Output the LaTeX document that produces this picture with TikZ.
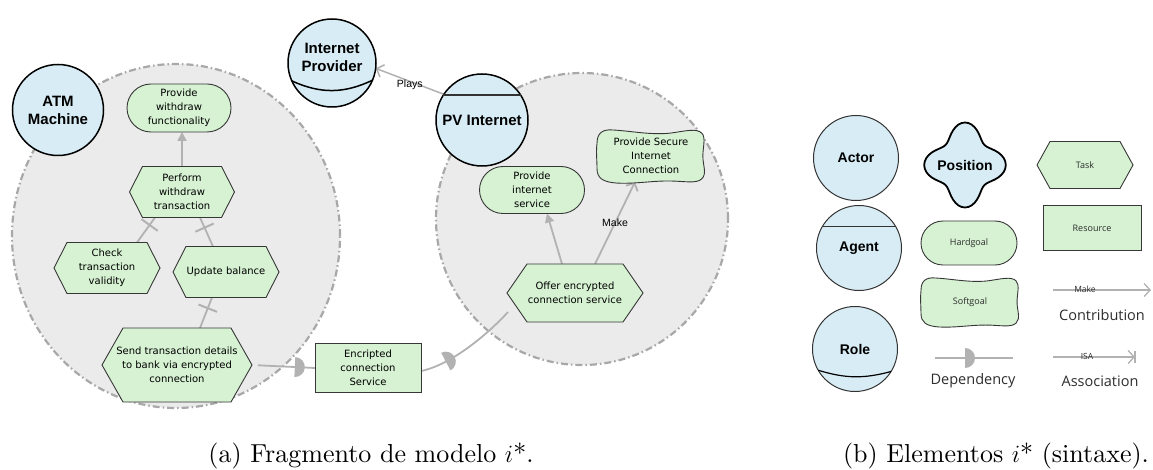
\documentclass[tikz,border=0pt]{standalone}
\usepackage{fontspec}
\newfontfamily\djvfont{DejaVu Sans}
\newfontfamily\libfont{Liberation Sans}
\newfontfamily\opsfont{Open Sans}
\newfontfamily\capfont{lmroman10-regular.otf}[ItalicFont=lmroman10-italic.otf]
\usetikzlibrary{shapes.misc,shapes.geometric,arrows.meta,decorations.markings,calc}
\definecolor{actorblue}{RGB}{215,236,244}
\definecolor{goalgreen}{RGB}{214,242,210}
\definecolor{boundfill}{RGB}{235,235,235}
\definecolor{boundline}{RGB}{168,168,168}
\definecolor{linkgrey}{RGB}{178,178,178}
\definecolor{elemline}{RGB}{55,55,55}
\definecolor{legtextcol}{RGB}{45,45,45}
\pgfdeclarelayer{bg}
\pgfdeclarelayer{links}
\pgfsetlayers{bg,links,main}

\tikzset{
  boundary/.style={draw=boundline, fill=boundfill, line width=2.2pt,
    dash pattern=on 7pt off 3pt on 1.5pt off 3pt, inner sep=0pt},
  actor/.style={circle, draw=black, line width=1.5pt, fill=actorblue, inner sep=0pt,
    outer sep=0pt, align=center, font=\libfont\bfseries\fontsize{15}{18}\selectfont},
  legactor/.style={actor, draw=black!80, line width=1pt,
    font=\libfont\bfseries\fontsize{14}{17}\selectfont},
  actorname/.style={align=center, inner sep=0pt, font=\libfont\bfseries\fontsize{15}{18}\selectfont},
  elemtext/.style={align=center, inner sep=0pt, outer sep=0pt, font=\djvfont\fontsize{10}{14}\selectfont},
  legtext/.style={align=center, inner sep=0pt, outer sep=0pt,
    font=\opsfont\fontsize{9}{11}\selectfont, text=legtextcol},
  elemshape/.style={draw=elemline, line width=0.9pt, fill=goalgreen},
  hardgoal/.style={elemshape, rounded rectangle, elemtext},
  resource/.style={elemshape, rectangle, elemtext},
  link/.style={draw=linkgrey, line width=1.8pt},
  legline/.style={draw=linkgrey, line width=1.3pt},
  filledtip/.style={-{Triangle[length=9pt,width=9pt]}},
  opentip/.style={-{Straight Barb[length=6pt,width=13pt]}},
  refine/.style={postaction={decorate, decoration={markings,
    mark=at position #1 with {\draw[linkgrey, line width=2pt] (0pt,-10pt) -- (0pt,10pt);}}}},
  depmark/.style={postaction={decorate, decoration={markings,
    mark=at position #1 with {\fill[linkgrey] (0pt,-10pt) arc[start angle=-90, end angle=90, radius=10pt] -- cycle;}}}},
  linklabel/.style={inner sep=0pt, font=\libfont\fontsize{10.5}{12}\selectfont},
  legname/.style={inner sep=0pt, font=\opsfont\fontsize{14.5}{17}\selectfont, text=legtextcol},
  captiontext/.style={inner sep=0pt, anchor=base, font=\capfont\fontsize{26}{31}\selectfont},
}

% task: hexagon with pointed left and right ends
% #1 name, #2 x, #3 y, #4 width, #5 height, #6 inset, #7 text, #8 text style
\newcommand\tasknode[8]{%
  \filldraw[elemshape] ({#2-#4/2},#3) -- ({#2-#4/2+#6},{#3-#5/2}) -- ({#2+#4/2-#6},{#3-#5/2})
    -- ({#2+#4/2},#3) -- ({#2+#4/2-#6},{#3+#5/2}) -- ({#2-#4/2+#6},{#3+#5/2}) -- cycle;
  \node[#8, minimum width=#4pt, minimum height=#5pt] (#1) at (#2,#3) {#7};
}

% softgoal: wavy rounded outline, drawn for a 100x50 box and scaled
% #1 name, #2 x, #3 y, #4 width, #5 height, #6 text, #7 text style
\newcommand\softnode[7]{%
  \begin{scope}[shift={(#2,#3)}, xscale=#4/100, yscale=#5/50]
    \filldraw[elemshape] (-50,-12)
      .. controls (-50,-22) and (-45,-26) .. (-35,-25)
      .. controls (-18,-24) and (0,-20) .. (18,-22)
      .. controls (32,-24) and (42,-27) .. (47,-22)
      .. controls (51,-18) and (48,-8) .. (48,0)
      .. controls (48,9) and (52,17) .. (47,22)
      .. controls (42,27) and (30,24) .. (16,24)
      .. controls (0,24) and (-16,27) .. (-32,26)
      .. controls (-45,25) and (-50,21) .. (-50,12)
      .. controls (-50,4) and (-51,-4) .. (-50,-12) -- cycle;
  \end{scope}
  \node[#7, minimum width=#4pt, minimum height=#5pt] (#1) at (#2,#3) {#6};
}

\begin{document}
\begin{tikzpicture}[x=1pt, y=-1pt]
\useasboundingbox (0,0) rectangle (1153,470);

% actor boundaries
\begin{pgfonlayer}{bg}
  \node[boundary, ellipse, minimum width=328pt, minimum height=344pt] (atmbound) at (176,236) {};
  \node[boundary, circle, minimum size=292pt] (pvbound) at (582,219) {};
\end{pgfonlayer}

% ATM Machine and its elements
\node[actor, minimum size=91pt] (atm) at (58,110) {ATM\\Machine};
\node[hardgoal, minimum width=104pt, minimum height=48pt] (pwf) at (179,108) {Provide\\withdraw\\functionality};
\tasknode{pwt}{182}{192}{105}{51}{13}{Perform\\withdraw\\transaction}{elemtext}
\tasknode{ctv}{107}{268}{106}{51}{13}{Check\\transaction\\validity}{elemtext}
\tasknode{ub}{226}{272}{106}{51}{13}{Update balance}{elemtext}
\tasknode{std}{177}{365}{150}{74}{21}{Send transaction details\\to bank via encrypted\\connection}{elemtext}
\node[resource, minimum width=106pt, minimum height=49pt] (ecs) at (368,368) {Encripted\\connection\\Service};

% Internet Provider (role)
\node[actor, minimum size=88pt] (ip) at (332,63) {};
\draw[black, line width=1.5pt] (ip.204) to[bend right=25] (ip.337);
\node[actorname] (iptext) at (332,57) {Internet\\Provider};

% PV Internet (agent) and its elements
\node[actor, minimum size=92pt] (pv) at (482,120) {PV Internet};
\draw[black!80, line width=1.5pt] (pv.147) -- (pv.33);
\node[hardgoal, minimum width=105pt, minimum height=47pt] (pis) at (532,190) {Provide\\internet\\service};
\softnode{psic}{651}{156}{108}{52}{Provide Secure\\Internet\\Connection}{elemtext}
\tasknode{oecs}{575}{293}{136}{58}{20}{Offer encrypted\\connection service}{elemtext}

% links
\begin{pgfonlayer}{links}
  \draw[link, filledtip] (pwt.north) -- ($(pwf.south)+(3,0)$);
  \draw[link, refine=0.7] ($(ctv.north)+(30,0)$) -- ($(pwt.south)+(-27,0)$);
  \draw[link, refine=0.65] ($(ub.north)+(-13,0)$) -- ($(pwt.south)+(18,0)$);
  \draw[link, refine=0.65] ($(std.north)+(23,0)$) -- ($(ub.south)+(-14,0)$);
  \draw[link, depmark=0.68, shorten <=6pt] (std.east) -- (ecs.west);
  \draw[link, depmark=0.25] ($(ecs.east)+(0,3)$) .. controls +(30,-6) and +(-20,22) .. ($(oecs.south west)+(1,-10)$);
  \draw[link, filledtip] ($(oecs.north)+(-13,0)$) -- ($(pis.south)+(15,0)$);
  \draw[link, opentip] ($(oecs.north)+(20,0)$) -- ($(psic.south)+(-16,0)$)
    node[linklabel, midway] (makelbl) {Make};
  \draw[link, line width=1.5pt, opentip] (pv.146) -- (ip.353)
    node[linklabel, midway, yshift=-3pt] (playslbl) {Plays};
\end{pgfonlayer}

% legend: actors
\node[legactor, minimum size=85pt] (lactor) at (856,158) {Actor};
\node[legactor, minimum size=85pt] (lagent) at (859,248) {Agent};
\draw[black!80, line width=1pt] (lagent.149) -- (lagent.31);
\node[legactor, minimum size=85pt] (lrole) at (855,349) {Role};
\draw[black, line width=1.2pt] (lrole.210) to[bend right=16] (lrole.328);
\filldraw[fill=actorblue, draw=black, line width=1.8pt]
  plot[smooth cycle, samples=72, domain=0:355]
  ({965+0.96*cos(\x)*(35.5+7*cos(4*\x))}, {165+sin(\x)*(35.5+7*cos(4*\x))});
\node[actorname, font=\libfont\bfseries\fontsize{14}{17}\selectfont] (lpos) at (965,165) {Position};

% legend: intentional elements
\tasknode{ltask}{1085}{165}{96}{47}{13}{Task}{legtext}
\node[resource, legtext, minimum width=98pt, minimum height=45pt] (lres) at (1092,228) {Resource};
\node[hardgoal, legtext, minimum width=96pt, minimum height=44pt] (lhard) at (969,243) {Hardgoal};
\softnode{lsoft}{970}{302}{98}{48}{Softgoal}{legtext}

% legend: links
\coordinate (lc1) at (1053,290);
\coordinate (lc2) at (1151,290);
\draw[legline, opentip] (lc1) -- (lc2);
\node[legtext, font=\opsfont\fontsize{8.5}{10}\selectfont] (lmake) at (1085,289) {Make};
\node[legname] (lcontr) at (1102,315) {Contribution};

\coordinate (ld1) at (935,358);
\coordinate (ld2) at (1013,358);
\draw[legline, depmark=0.385] (ld1) -- (ld2);
\node[legname] (ldep) at (973,381) {Dependency};

\coordinate (la1) at (1053,357);
\coordinate (la2) at (1135,357);
\draw[legline, opentip] (la1) -- (la2);
\draw[legline] ($(la2)+(0,-6)$) -- ($(la2)+(0,6)$);
\node[legtext, font=\opsfont\fontsize{8.5}{10}\selectfont] (lisa) at (1087,356) {ISA};
\node[legname] (lassoc) at (1100,381) {Association};

% captions
\node[captiontext] (capa) at (371,462) {(a) Fragmento de modelo $i$*.};
\node[captiontext] (capb) at (996,462) {(b) Elementos $i$* (sintaxe).};
\end{tikzpicture}
\end{document}
